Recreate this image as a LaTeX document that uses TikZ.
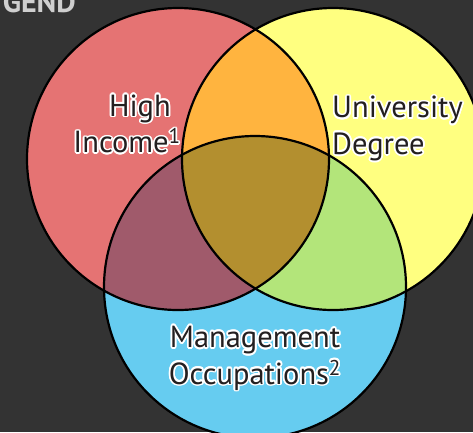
\documentclass[tikz,border=0pt]{standalone}
\usepackage{fontspec}
\setmainfont{PT Sans}
\usepackage{contour}
\contourlength{1.7pt}
\definecolor{backdrop}{HTML}{333333}
\definecolor{legendgray}{HTML}{CFCFCF}
\definecolor{ink}{HTML}{231F20}
\definecolor{incomered}{HTML}{E57373}
\definecolor{degreeyellow}{HTML}{FFFF80}
\definecolor{manageblue}{HTML}{66CCF0}
\definecolor{incdeg}{HTML}{FFB43F}
\definecolor{incman}{HTML}{A05A6B}
\definecolor{degman}{HTML}{B3E57A}
\definecolor{allthree}{HTML}{B38F2F}
\tikzset{
  ring/.style={draw=black, line width=2.2pt},
  tag/.style={font=\fontsize{30.5}{36.5}\selectfont, text=ink, inner sep=0pt},
}
\newcommand{\halo}[1]{\contour{white}{#1}}
\begin{document}
\begin{tikzpicture}[x=1pt, y=-1pt]
    \clip (0,0) rectangle (473,432);
    \fill [backdrop] (0,0) rectangle (473,432);
    \node [anchor=base east, inner sep=0pt, text=legendgray, font=\bfseries\fontsize{30}{30}\selectfont] (legend) at (76,12) {GEND};
    % set centres
    \coordinate (income) at (178,159);
    \coordinate (degree) at (333,159);
    \coordinate (manage) at (255,287);
    \fill [incomered] (income) circle (151pt);
    \fill [degreeyellow] (degree) circle (151pt);
    \fill [manageblue] (manage) circle (151pt);
    % overlaps
    \begin{scope}
        \clip (income) circle (151pt);
        \fill [incdeg] (degree) circle (151pt);
        \fill [incman] (manage) circle (151pt);
    \end{scope}
    \begin{scope}
        \clip (degree) circle (151pt);
        \fill [degman] (manage) circle (151pt);
        \clip (income) circle (151pt);
        \fill [allthree] (manage) circle (151pt);
    \end{scope}
    \draw [ring] (income) circle (151pt);
    \draw [ring] (degree) circle (151pt);
    \draw [ring] (manage) circle (151pt);
    % labels
    \node [tag, align=right, anchor=south east] (incomelabel) at (181,155) {\halo{High}\kern10pt\\\halo{Income\textsuperscript{1}}};
    \node [tag, align=left, anchor=north west] (degreelabel) at (332,96) {\halo{University}\\\halo{Degree}};
    \node [tag, align=center, anchor=north] (managelabel) at (255,326) {\halo{Management}\\\halo{Occupations\textsuperscript{2}}};
\end{tikzpicture}
\end{document}
